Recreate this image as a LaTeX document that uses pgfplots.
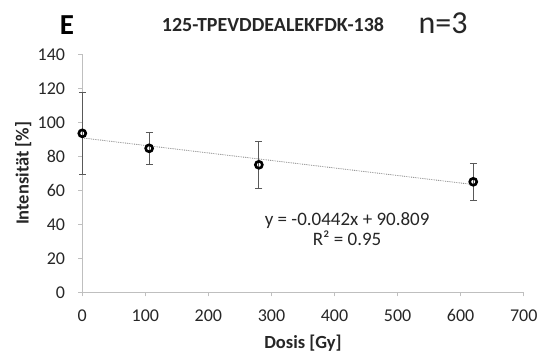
\documentclass[border=0pt]{standalone}
\usepackage{pgfplots}
\pgfplotsset{compat=1.18}
\usepackage{fontspec}
\setmainfont{Carlito}
\definecolor{axisgrey}{HTML}{BFBFBF}
\definecolor{bargrey}{HTML}{595959}
\definecolor{textgrey}{HTML}{262626}
\begin{document}
\begin{tikzpicture}[x=1pt,y=1pt]
\useasboundingbox (-82.3,-63.7) rectangle (464.7,292.3);
\begin{axis}[
  at={(0,0)}, anchor=south west,
  scale only axis, width=441.4pt, height=238pt,
  xmin=0, xmax=700, ymin=0, ymax=140,
  xtick={0,100,...,700}, ytick={0,20,...,140},
  axis x line*=bottom, axis y line*=left,
  axis line style={axisgrey, line width=0.8pt},
  every tick/.style={axisgrey, line width=0.8pt},
  tick align=outside, major tick length=4pt,
  tick label style={font=\fontsize{18}{19}\selectfont, text=textgrey, inner sep=0pt},
  /pgf/number format/assume math mode=true,
  xticklabel style={anchor=center, yshift=-23.4pt+4pt},
  yticklabel style={anchor=east, xshift=-13pt},
  xlabel={\bfseries Dosis [Gy]},
  ylabel={\bfseries Intensität [\%]},
  label style={font=\fontsize{18.5}{19}\selectfont, text=textgrey},
  xlabel style={at={(axis description cs:0.5,0)}, anchor=center, yshift=-50.7pt},
  ylabel style={at={([xshift=-59pt]axis description cs:0,0.5)}, anchor=center},
  clip=false,
]
% linear trend line y = -0.0442x + 90.809
\addplot[gray, densely dotted, line width=0.8pt] coordinates {(0,90.809) (620,63.405)};
% mean intensities with standard deviation
\addplot[only marks, mark=o, mark size=3.5pt, line width=2.6pt, black,
  error bars/.cd, y dir=both, y explicit,
  error bar style={bargrey, line width=0.8pt},
  error mark options={bargrey, line width=0.8pt, mark size=3.5pt, rotate=90}]
  coordinates {
  (0,93.5) +- (0,24)
  (106,84.7) +- (0,9.3)
  (280,75) +- (0,14)
  (620,65) +- (0,10.7)
  };
\node[font=\fontsize{19}{20.3}\selectfont, text=textgrey, align=center]
  at (axis cs:420,37) {y = -0.0442x + 90.809\\R² = 0.95};
\end{axis}
\node[font=\fontsize{29}{30}\selectfont\bfseries] at (-15.3,267) {E};
\node[font=\fontsize{20}{21}\selectfont\bfseries, text=textgrey] at (190.7,268) {125-TPEVDDEALEKFDK-138};
\node[font=\fontsize{32}{33}\selectfont, text=textgrey] at (360.7,269) {n=3};
\end{tikzpicture}
\end{document}
